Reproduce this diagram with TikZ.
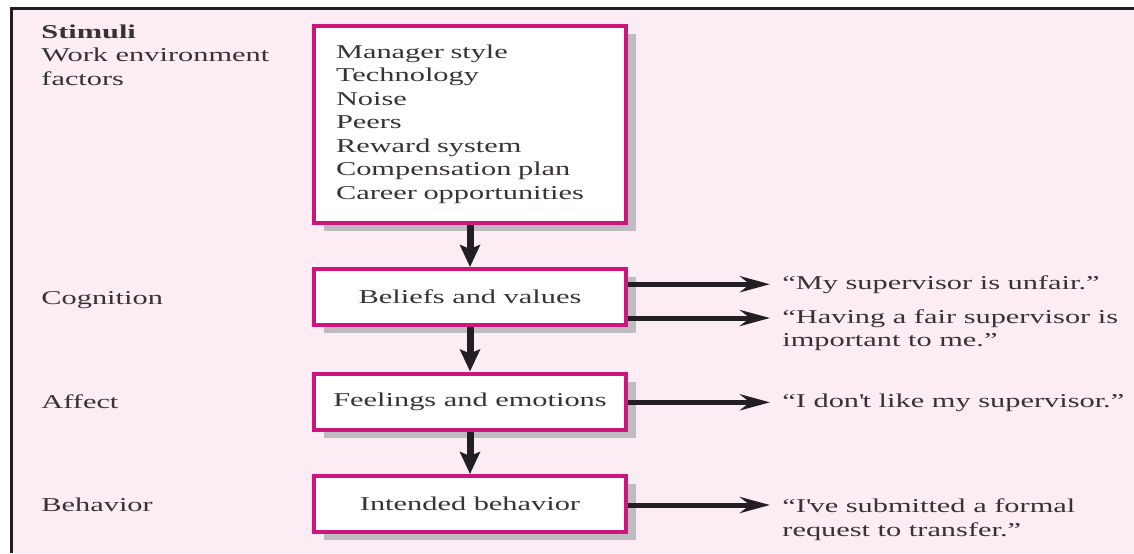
\documentclass[tikz,border=0pt]{standalone}
\usepackage{fontspec}
\setmainfont{Liberation Serif}[FakeStretch=1.55]
\usepackage{xcolor}
\usepackage{tikz}
\usetikzlibrary{arrows.meta,positioning,shadows}
\definecolor{bgpink}{RGB}{252,236,244}
\definecolor{boxmagenta}{RGB}{204,22,124}
\definecolor{shadowgray}{RGB}{190,188,194}
\definecolor{inkgray}{RGB}{55,50,55}
\definecolor{arrowblack}{RGB}{35,30,35}
\tikzset{
	stagebox/.style={draw=boxmagenta,line width=2pt,fill=white,minimum width=156pt,minimum height=28pt,text=inkgray,
		drop shadow={shadow xshift=5pt,shadow yshift=-4pt,fill=shadowgray,opacity=1}},
	leftlabel/.style={inner sep=0pt,text=inkgray,anchor=base west},
	saying/.style={inner sep=0pt,text=inkgray,align=left},
	downarrow/.style={draw=arrowblack,line width=3.5pt,-{Stealth[length=11pt,width=10pt,inset=2pt]}},
	sidearrow/.style={draw=arrowblack,line width=2.5pt,-{Stealth[length=15pt,width=8pt,inset=5pt]},shorten >=6pt},
}

\begin{document}
\begin{tikzpicture}[x=0.5pt,y=-0.5pt,font=\fontsize{9.8pt}{11.75pt}\selectfont]
	\useasboundingbox (0,0) rectangle (1134,553);
	% panel, only top and left edge are visible
	\fill[bgpink] (11,8) rectangle (1134,553);
	\draw[line width=1.5pt,arrowblack] (11,553) -- (11,8) -- (1134,8);
	% left column
	\node[leftlabel,anchor=north west,align=left] (stimuli) at (41,24) {\textbf{Stimuli}\\Work environment\\factors};
	\node[leftlabel] (cognition) at (41,304) {Cognition};
	\node[leftlabel] (affect) at (41,408) {Affect};
	\node[leftlabel] (behavior) at (41,511) {Behavior};
	% middle column
	\node[stagebox,minimum height=98.5pt,text width=134pt,align=left] (factors) at (470,124) {Manager style\\Technology\\Noise\\Peers\\Reward system\\Compensation plan\\Career opportunities};
	\node[stagebox] (beliefs) at (470,297) {Beliefs and values};
	\node[stagebox] (feelings) at (470,401.5) {Feelings and emotions};
	\node[stagebox] (intended) at (470,504) {Intended behavior};
	\draw[downarrow] (factors) -- (beliefs);
	\draw[downarrow] (beliefs) -- (feelings);
	\draw[downarrow] (feelings) -- (intended);
	% right column
	\node[saying,anchor=base west] (unfair) at (782,289) {``My supervisor is unfair.''};
	\node[saying,anchor=north west] (fairmatters) at (782,309) {``Having a fair supervisor is\\important to me.''};
	\node[saying,anchor=base west] (dislike) at (782,407) {``I don\textquotesingle t like my supervisor.''};
	\node[saying,anchor=north west] (transfer) at (782,498.5) {``I\textquotesingle ve submitted a formal\\request to transfer.''};
	\coordinate (fairtip) at (782,318);
	\coordinate (transfertip) at (782,505);
	\draw[sidearrow] (beliefs.east |- unfair.west) -- (unfair.west);
	\draw[sidearrow] (beliefs.east |- fairtip) -- (fairtip);
	\draw[sidearrow] (feelings.east |- dislike.west) -- (dislike.west);
	\draw[sidearrow] (intended.east |- transfertip) -- (transfertip);
\end{tikzpicture}
\end{document}
